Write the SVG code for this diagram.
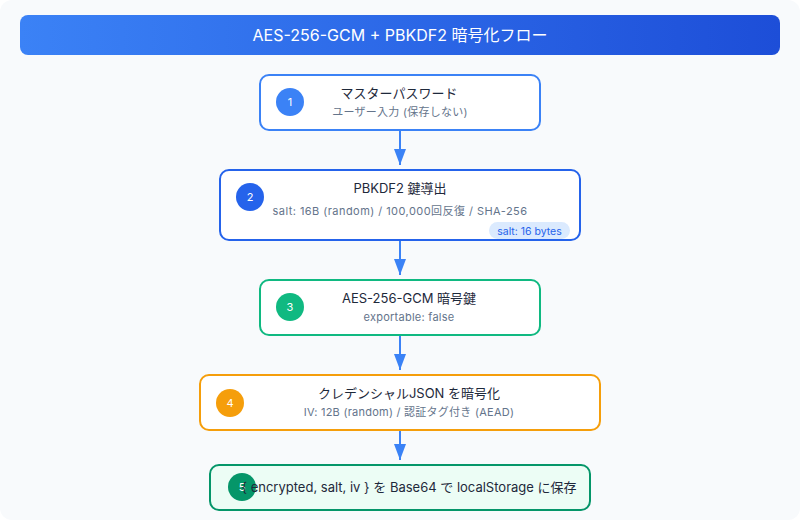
<svg xmlns="http://www.w3.org/2000/svg" width="800" height="520" viewBox="0 0 800 520">
<defs>
<linearGradient id="hg" x1="0" y1="0" x2="1" y2="0">
<stop offset="0" stop-color="#3b82f6"/>
<stop offset="1" stop-color="#1d4ed8"/>
</linearGradient>
<marker id="ah" viewBox="0 0 12 16" refX="6" refY="16" markerWidth="12" markerHeight="16" markerUnits="userSpaceOnUse" orient="0">
<path d="M0,0 L12,0 L6,16 z" fill="#3b82f6"/>
</marker>
<style>
text{font-family:"Inter","Noto Sans CJK JP",sans-serif;}
.box{fill:#ffffff;stroke-width:2;}
.t{font-size:13px;fill:#1e293b;text-anchor:middle;}
.s{font-size:11px;fill:#64748b;text-anchor:middle;letter-spacing:0.25px;}
.n{font-size:11px;fill:#ffffff;text-anchor:middle;}
.c{stroke:#3b82f6;stroke-width:2;fill:none;}
</style>
</defs>
<rect x="0" y="0" width="800" height="520" rx="12" fill="#f8fafc"/>
<g id="header">
<rect x="20" y="15" width="760" height="40" rx="8" fill="url(#hg)"/>
<text x="400" y="41" font-size="16" fill="#ffffff" text-anchor="middle">AES-256-GCM + PBKDF2 暗号化フロー</text>
</g>
<g id="connectors">
<line class="c" x1="400" y1="130" x2="400" y2="165" marker-end="url(#ah)"/>
<line class="c" x1="400" y1="240" x2="400" y2="275" marker-end="url(#ah)"/>
<line class="c" x1="400" y1="335" x2="400" y2="370" marker-end="url(#ah)"/>
<line class="c" x1="400" y1="430" x2="400" y2="460" marker-end="url(#ah)"/>
</g>
<g id="node1">
<rect class="box" x="260" y="75" width="280" height="55" rx="9" stroke="#3b82f6"/>
<circle cx="290" cy="102" r="14" fill="#3b82f6"/>
<text class="n" x="290" y="106">1</text>
<text class="t" x="399" y="98">マスターパスワード</text>
<text class="s" x="400" y="116">ユーザー入力 (保存しない)</text>
</g>
<g id="node2">
<rect class="box" x="220" y="170" width="360" height="70" rx="9" stroke="#2563eb"/>
<circle cx="250" cy="197" r="14" fill="#2563eb"/>
<text class="n" x="250" y="201">2</text>
<text class="t" x="400" y="193">PBKDF2 鍵導出</text>
<text class="s" x="400" y="215" style="letter-spacing:0.45px">salt: 16B (random) / 100,000回反復 / SHA-256</text>
<rect x="489" y="222" width="81" height="17" rx="8.5" fill="#dbeafe"/>
<text x="529.5" y="234.5" font-size="10.5" fill="#2563eb" text-anchor="middle">salt: 16 bytes</text>
</g>
<g id="node3">
<rect class="box" x="260" y="280" width="280" height="55" rx="9" stroke="#10b981"/>
<circle cx="290" cy="307" r="14" fill="#10b981"/>
<text class="n" x="290" y="311">3</text>
<text class="t" x="409" y="303">AES-256-GCM 暗号鍵</text>
<text class="s" x="409" y="321">exportable: false</text>
</g>
<g id="node4">
<rect class="box" x="200" y="375" width="400" height="55" rx="9" stroke="#f59e0b"/>
<circle cx="230" cy="403" r="14" fill="#f59e0b"/>
<text class="n" x="230" y="407">4</text>
<text class="t" x="409" y="398">クレデンシャルJSON を暗号化</text>
<text class="s" x="409" y="416">IV: 12B (random) / 認証タグ付き (AEAD)</text>
</g>
<g id="node5">
<rect x="210" y="465" width="380" height="45" rx="9" fill="#ecfdf5" stroke="#059669" stroke-width="2"/>
<circle cx="242" cy="487" r="14" fill="#059669"/>
<text class="n" x="242" y="491">5</text>
<text class="t" x="409" y="492">{ encrypted, salt, iv } を Base64 で localStorage に保存</text>
</g>
</svg>
